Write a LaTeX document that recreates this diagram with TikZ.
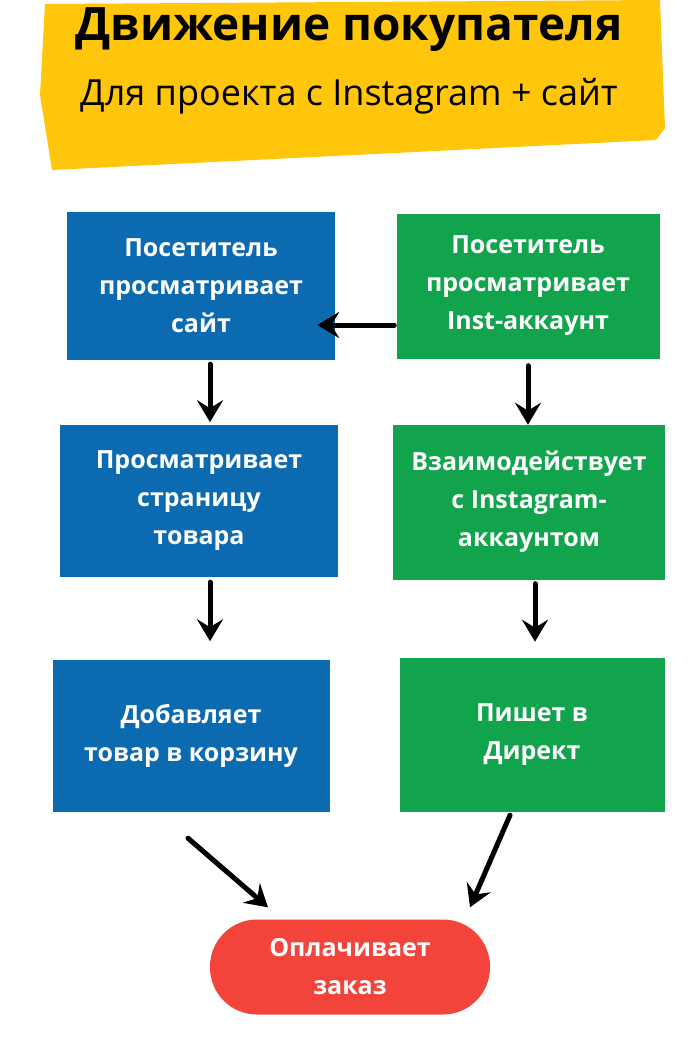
\documentclass[tikz,border=0pt]{standalone}
\usepackage{fontspec}
\setmainfont{Open Sans}
\usetikzlibrary{arrows.meta}

\definecolor{bannercolor}{RGB}{255, 198, 12}
\definecolor{sitecolor}{RGB}{12, 107, 176}
\definecolor{instcolor}{RGB}{18, 164, 76}
\definecolor{paycolor}{RGB}{242, 68, 58}

\tikzset{
  box/.style={text=white, font=\bfseries\fontsize{25}{38}\selectfont, align=center, inner sep=0pt},
  sitebox/.style={box, fill=sitecolor},
  instbox/.style={box, fill=instcolor},
  arr/.style={-{Stealth[length=22pt,width=26pt,inset=8pt]}, line width=5pt, line cap=round}
}

\begin{document}
\begin{tikzpicture}[x=1pt,y=-1pt]
        \useasboundingbox (0,0) rectangle (700,1050);

        % banner
        \fill[bannercolor] (45,4) -- (660,0) -- (665,128) -- (656,140) -- (52,170) -- (40,95) -- cycle;
        \node[font=\bfseries\fontsize{46}{50}\selectfont] (title) at (349,30) {Движение покупателя};
        \node[font=\fontsize{36}{40}\selectfont] (subtitle) at (349,96) {Для проекта с Instagram + сайт};

        % site path
        \node[sitebox, minimum width=268pt, minimum height=148pt] (site) at (201,286) {Посетитель\\просматривает\\сайт};
        \node[sitebox, minimum width=278pt, minimum height=152pt] (page) at (199,501) {Просматривает\\страницу\\товара};
        \node[sitebox, minimum width=277pt, minimum height=152pt] (cart) at (191,736) {Добавляет\\товар в корзину};

        % instagram path
        \node[instbox, minimum width=263pt, minimum height=145pt] (inst) at (528,286) {Посетитель\\просматривает\\Inst-аккаунт};
        \node[instbox, minimum width=272pt, minimum height=155pt] (talk) at (529,502) {Взаимодействует\\с Instagram-\\аккаунтом};
        \node[instbox, minimum width=265pt, minimum height=154pt] (direct) at (532,735) {Пишет в\\Директ};

        % order
        \node[box, fill=paycolor, rounded corners=47pt, minimum width=280pt, minimum height=95pt] (pay) at (350,967) {Оплачивает\\заказ};

        % arrows
        \draw[arr] ([xshift=-2pt,yshift=-39pt]inst.west) -- ([xshift=-18pt,yshift=-39pt]site.east);
        \draw[arr] ([xshift=9pt,yshift=-4pt]site.south) -- ([xshift=9pt,yshift=-62pt]site.south);
        \draw[arr] ([xshift=11pt,yshift=-5pt]page.south) -- ([xshift=11pt,yshift=-64pt]page.south);
        \draw[arr] ([yshift=-7pt]inst.south) -- ([yshift=-66pt]inst.south);
        \draw[arr] ([xshift=6pt,yshift=-4pt]talk.south) -- ([xshift=6pt,yshift=-62pt]talk.south);
        \draw[arr] ([xshift=-3pt,yshift=-26pt]cart.south) -- ([xshift=-82pt,yshift=12pt]pay.north);
        \draw[arr] ([xshift=-22pt,yshift=-3pt]direct.south) -- ([xshift=120pt,yshift=12pt]pay.north);
\end{tikzpicture}
\end{document}
